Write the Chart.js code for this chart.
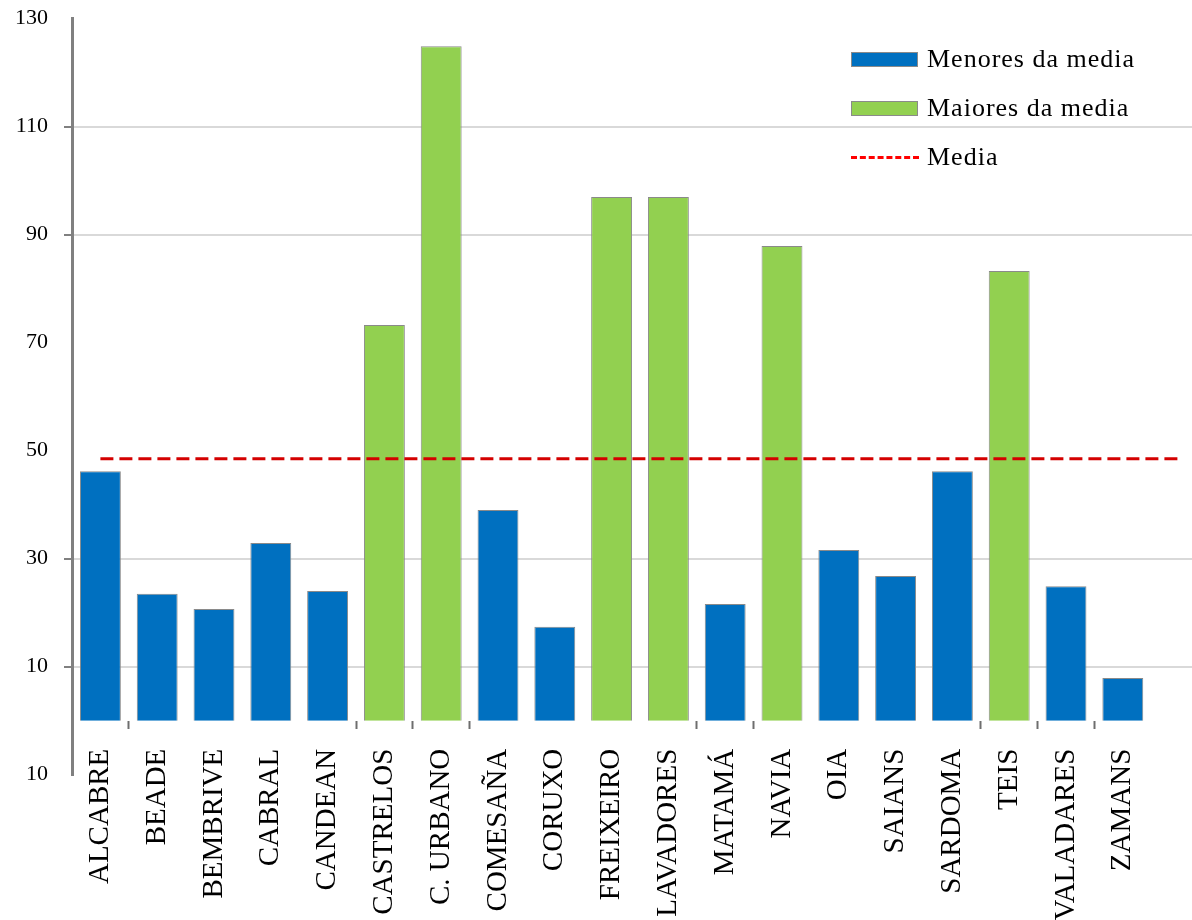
<!DOCTYPE html>
<html>
<head>
<meta charset="utf-8">
<script src="https://cdn.jsdelivr.net/npm/chart.js@4.4.1/dist/chart.umd.min.js"></script>
<style>
  html, body { margin: 0; padding: 0; background: #fff; overflow: hidden; }
  #wrap { position: relative; width: 1208px; height: 920px; }
  #legend { position: absolute; left: 851px; top: 44px; font-family: "Liberation Serif", serif; font-size: 26px; color: #000; letter-spacing: 1px; }
  .item { display: flex; align-items: center; height: 30px; margin-bottom: 19px; }
  .swatch { width: 67px; height: 15px; box-sizing: border-box; margin-right: 9px; }
  .dash { width: 68px; height: 0; border-top: 3px dashed #ff0000; margin-right: 8px; }
</style>
</head>
<body>
<div id="wrap">
  <canvas id="chart" width="1208" height="920"></canvas>
  <div id="legend"></div>
</div>
<script>
// parishes (the original plot leaves one empty slot at the right edge)
const categories = ["ALCABRE", "BEADE", "BEMBRIVE", "CABRAL", "CANDEAN", "CASTRELOS", "C. URBANO", "COMESAÑA", "CORUXO", "FREIXEIRO", "LAVADORES", "MATAMÁ", "NAVIA", "OIA", "SAIANS", "SARDOMA", "TEIS", "VALADARES", "ZAMANS"];
const values = [46.2, 23.5, 20.7, 32.9, 24.0, 73.3, 124.9, 39.0, 17.4, 97.0, 97.0, 21.6, 87.9, 31.6, 26.8, 46.2, 83.3, 24.9, 7.9];
const media = 48.5;
const yTicks = [-10, 10, 30, 50, 70, 90, 110, 130];
const gridAt = [10, 30, 90, 110];
// category boundaries where the source shows a small tick under the bars
const xTickMarks = [1, 5, 6, 7, 11, 12, 16, 17, 18];

const labels = categories.concat([""]);
const menores = values.map(v => v < media ? v : null);
const maiores = values.map(v => v >= media ? v : null);
const mediaLine = labels.map(() => media);

const serif = "'Liberation Serif', serif";

const ctx = document.getElementById("chart").getContext("2d");
const chart = new Chart(ctx, {
  data: {
    labels: labels,
    datasets: [
      {
        type: "bar", label: "Menores da media", data: menores,
        backgroundColor: "#0070C0", borderColor: "#8a8a8a", borderWidth: 1,
        grouped: false, barPercentage: 0.72, categoryPercentage: 1, order: 2
      },
      {
        type: "bar", label: "Maiores da media", data: maiores,
        backgroundColor: "#92D050", borderColor: "#8a8a8a", borderWidth: 1,
        grouped: false, barPercentage: 0.72, categoryPercentage: 1, order: 2
      },
      {
        type: "line", label: "Media", data: mediaLine,
        borderColor: "#d40000", borderWidth: 3, borderDash: [13, 6],
        pointRadius: 0, fill: false, tension: 0, order: 1
      }
    ]
  },
  options: {
    responsive: false,
    animation: false,
    layout: { padding: { top: 18.7, right: 0, bottom: 145.3, left: 0 } },
    plugins: { legend: { display: false }, tooltip: { enabled: false } },
    scales: {
      x: {
        type: "category",
        position: { y: 0 },
        offset: true,
        grid: {
          display: true, drawOnChartArea: false, offset: true,
          tickLength: 8, tickWidth: 2,
          tickColor: c => xTickMarks.includes(c.index) ? "#6e6e6e" : "rgba(0,0,0,0)"
        },
        border: { display: false },
        ticks: {
          autoSkip: false, minRotation: 90, maxRotation: 90, padding: 20,
          color: "#000", font: { family: serif, size: 29 }
        },
        afterFit: s => { s.height = 0; s.paddingLeft = 0; s.paddingRight = 0; }
      },
      y: {
        min: -10, max: 130,
        afterBuildTicks: s => { s.ticks = yTicks.map(v => ({ value: v })); },
        afterFit: s => { s.width = 72; s.paddingTop = 0; s.paddingBottom = 0; },
        grid: {
          color: c => gridAt.includes(c.tick.value) ? "#d9d9d9" : "rgba(0,0,0,0)",
          tickColor: c => gridAt.includes(c.tick.value) ? "#808080" : "rgba(0,0,0,0)",
          lineWidth: 2, tickLength: 8
        },
        border: { color: "#808080", width: 3 },
        ticks: {
          padding: 16, color: "#000", font: { family: serif, size: 22 },
          // the picture prints the bottom tick without its sign
          callback: v => String(Math.abs(v))
        }
      }
    }
  }
});

// legend, built from the datasets
const legend = document.getElementById("legend");
chart.data.datasets.forEach(ds => {
  const row = document.createElement("div");
  row.className = "item";
  const sw = document.createElement("div");
  if (ds.type === "line") {
    sw.className = "dash";
  } else {
    sw.className = "swatch";
    sw.style.background = ds.backgroundColor;
    sw.style.border = "1px solid " + ds.borderColor;
  }
  const txt = document.createElement("span");
  txt.textContent = ds.label;
  row.appendChild(sw);
  row.appendChild(txt);
  legend.appendChild(row);
});
</script>
</body>
</html>
